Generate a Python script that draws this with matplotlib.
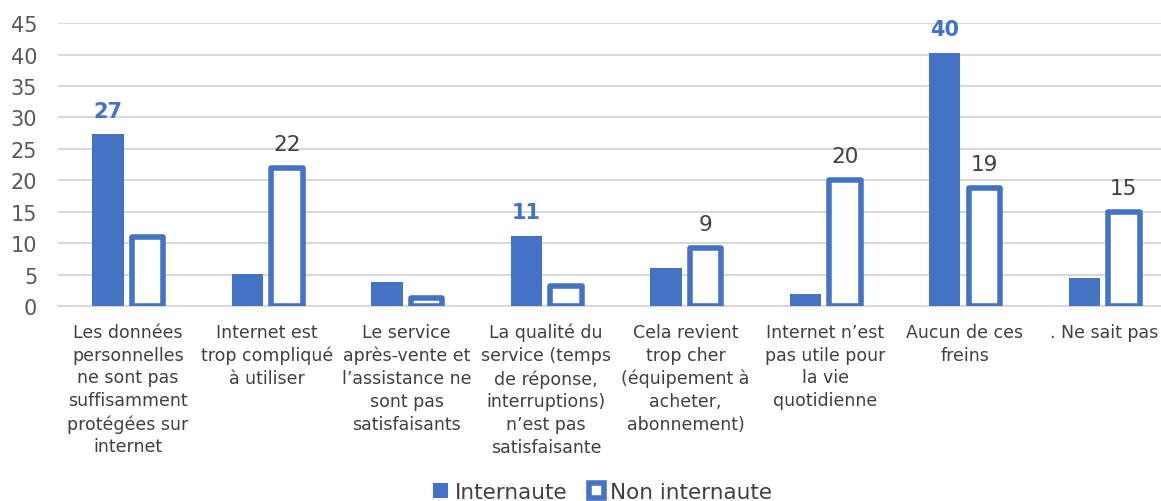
import matplotlib.pyplot as plt
import numpy as np

plt.rcParams['font.family'] = ['DejaVu Sans']

categories = [
    "Les données\npersonnelles\nne sont pas\nsuffisamment\nprotégées sur\ninternet",
    "Internet est\ntrop compliqué\nà utiliser",
    "Le service\naprès-vente et\nl’assistance ne\nsont pas\nsatisfaisants",
    "La qualité du\nservice (temps\nde réponse,\ninterruptions)\nn’est pas\nsatisfaisante",
    "Cela revient\ntrop cher\n(équipement à\nacheter,\nabonnement)",
    "Internet n’est\npas utile pour\nla vie\nquotidienne",
    "Aucun de ces\nfreins",
    ". Ne sait pas",
]
internaute = [27.3, 5.1, 3.8, 11.1, 6.1, 1.9, 40.3, 4.5]
non_internaute = [11.0, 22.0, 1.3, 3.2, 9.2, 20.1, 18.8, 15.0]
labels_internaute = ["27", None, None, "11", None, None, "40", None]
labels_non = [None, "22", None, None, "9", "20", "19", "15"]
yticks = [0, 5, 10, 15, 20, 25, 30, 35, 40, 45]

blue = '#4472C4'
grid = '#D9D9D9'

fig = plt.figure(figsize=(11.61, 5.02), dpi=100)
# plot area is cut by the right edge of the picture, as in the reference
ax = fig.add_axes([0.05, 0.388, 0.961, 0.564])

x = np.arange(len(categories))
w = 0.225
off = 0.142

b1 = ax.bar(x - off, internaute, w, color=blue, label='Internaute', zorder=3)
b2 = ax.bar(x + off, non_internaute, w, facecolor='white', edgecolor=blue,
            linewidth=4, joinstyle='round', label='Non internaute', zorder=3)

for xi, v, lab in zip(x, internaute, labels_internaute):
    if lab:
        ax.annotate(lab, (xi - off, v), xytext=(0, 10), textcoords='offset points',
                    ha='center', va='bottom', fontsize=15, fontweight='bold', color=blue)
for xi, v, lab in zip(x, non_internaute, labels_non):
    if lab:
        ax.annotate(lab, (xi + off, v), xytext=(0, 10), textcoords='offset points',
                    ha='center', va='bottom', fontsize=15.5, color='#404040')

ax.set_ylim(0, 45)
ax.set_xlim(-0.5, len(categories) - 0.5)
ax.set_yticks(yticks)
ax.yaxis.grid(True, color=grid, linewidth=1.5, zorder=0)
ax.set_axisbelow(True)
for s in ['top', 'right', 'left']:
    ax.spines[s].set_visible(False)
ax.spines['bottom'].set_color(grid)
ax.spines['bottom'].set_linewidth(1.5)
ax.tick_params(axis='y', length=0, labelsize=15, labelcolor='#595959', pad=15)
ax.tick_params(axis='x', length=0, labelsize=12.5, labelcolor='#404040', pad=12)
ax.set_xticks(x)
ax.set_xticklabels(categories, va='top', ha='center', linespacing=1.34)

ax.legend(handles=[b1, b2], loc='center', bbox_to_anchor=(0.519, 0.017),
          bbox_transform=fig.transFigure, ncol=2, frameon=False, fontsize=15.5,
          handlelength=0.7, handleheight=0.7, handletextpad=0.3, columnspacing=1.0,
          labelcolor='#404040')

fig.savefig('out.png', dpi=100, facecolor='white')
